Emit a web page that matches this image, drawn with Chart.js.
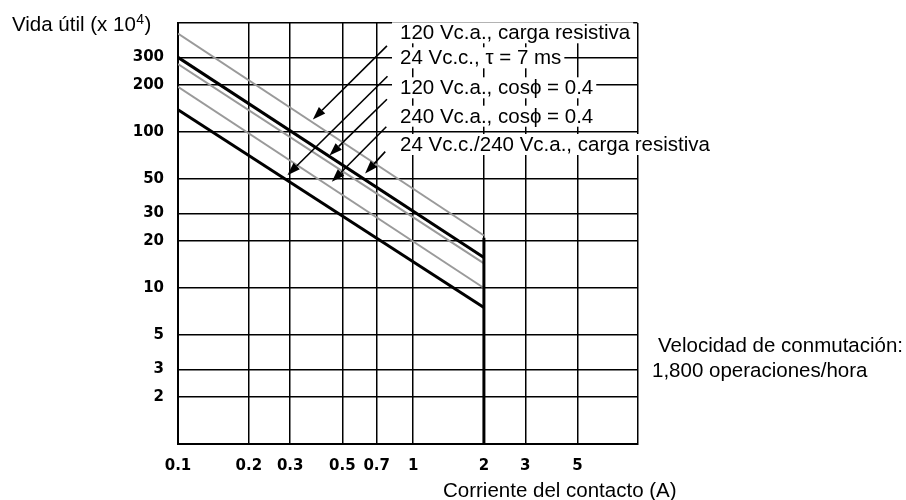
<!DOCTYPE html>
<html>
<head>
<meta charset="utf-8">
<script src="https://cdn.jsdelivr.net/npm/chart.js@4/dist/chart.umd.min.js"></script>
<style>
  html, body { margin: 0; padding: 0; background: #fff; }
</style>
</head>
<body>
<canvas id="life-chart" width="906" height="500"></canvas>
<script>
// Contact current at both ends of each curve (A)
const currentAmps = [0.1, 2];

// Electrical life (x 10^4 operations) at 0.1 A and 2 A
const life120acResistive = [428, 21.7];
const life24dcTau7 = [301, 15.7];
const life120acCos04 = [273, 14.4];
const life240acCos04 = [195, 10];
const life24dc240acResistive = [139, 7.5];

const seriesLabels = [
    "120 Vc.a., carga resistiva",
    "24 Vc.c., \u03c4 = 7 ms",
    "120 Vc.a., cos\u03d5 = 0.4",
    "240 Vc.a., cos\u03d5 = 0.4",
    "24 Vc.c./240 Vc.a., carga resistiva"
];

// Labelled grid values on each axis
const xTickValues = [0.1, 0.2, 0.3, 0.5, 0.7, 1, 2, 3, 5];
const yTickValues = [2, 3, 5, 10, 20, 30, 50, 100, 200, 300];

// Axis limits
const xMin = 0.1, xMax = 9;
const yMin = 1, yMax = 500;

// Pointer arrows from each label to its curve, in data units [current, life]
const arrowFrom = [[0.774, 357], [0.778, 227.7], [0.774, 162.3], [0.769, 108.1], [0.761, 74.9]];
const arrowTo = [[0.3745, 120.4], [0.292, 52.9], [0.4406, 70.7], [0.451, 48.0], [0.625, 54.3]];

const textFont = '20.5px "Liberation Sans", Arial, sans-serif';
const tickFont = { family: '"DejaVu Sans", sans-serif', size: 15, weight: 'bold' };

function toPoints(values) {
    return currentAmps.map((x, i) => ({ x: x, y: values[i] }));
}

function lineSet(values, color, width) {
    return {
        data: toPoints(values),
        borderColor: color,
        borderWidth: width,
        pointRadius: 0,
        fill: false,
        tension: 0
    };
}

// Draws the labels, arrows and the heavy 2 A limit line on top of the grid
const annotationPlugin = {
    id: 'annotations',
    afterDatasetsDraw(chart) {
        const ctx = chart.ctx;
        const xs = chart.scales.x;
        const ys = chart.scales.y;
        ctx.save();

        // heavier part of the 2 A line
        ctx.strokeStyle = '#000';
        ctx.lineWidth = 3;
        ctx.beginPath();
        ctx.moveTo(xs.getPixelForValue(2), ys.getPixelForValue(21));
        ctx.lineTo(xs.getPixelForValue(2), ys.getPixelForValue(yMin));
        ctx.stroke();

        // series labels on white boxes
        ctx.font = textFont;
        ctx.textBaseline = 'alphabetic';
        ctx.textAlign = 'left';
        const labelX = 400;
        const baselines = [39.3, 64.3, 94.3, 122.7, 151];
        seriesLabels.forEach(function(label, i) {
            const w = ctx.measureText(label).width;
            ctx.fillStyle = '#fff';
            ctx.fillRect(labelX - 8, baselines[i] - 17, w + 11, 21);
        });
        ctx.fillStyle = '#000';
        seriesLabels.forEach(function(label, i) {
            ctx.fillText(label, labelX, baselines[i]);
        });

        // arrows
        ctx.strokeStyle = '#000';
        ctx.fillStyle = '#000';
        ctx.lineWidth = 1.6;
        arrowFrom.forEach(function(from, i) {
            const x0 = xs.getPixelForValue(from[0]);
            const y0 = ys.getPixelForValue(from[1]);
            const x1 = xs.getPixelForValue(arrowTo[i][0]);
            const y1 = ys.getPixelForValue(arrowTo[i][1]);
            const ang = Math.atan2(y1 - y0, x1 - x0);
            const len = 13, half = 4.5;
            const bx = x1 - len * Math.cos(ang);
            const by = y1 - len * Math.sin(ang);
            ctx.beginPath();
            ctx.moveTo(x0, y0);
            ctx.lineTo(bx, by);
            ctx.stroke();
            ctx.beginPath();
            ctx.moveTo(x1, y1);
            ctx.lineTo(bx + half * Math.sin(ang), by - half * Math.cos(ang));
            ctx.lineTo(bx - half * Math.sin(ang), by + half * Math.cos(ang));
            ctx.closePath();
            ctx.fill();
        });

        // axis titles and note
        ctx.fillStyle = '#000';
        ctx.font = textFont;
        let tx = 12;
        ctx.fillText('Vida \u00fatil (x 10', tx, 31);
        tx += ctx.measureText('Vida \u00fatil (x 10').width;
        ctx.font = '14px "Liberation Sans", Arial, sans-serif';
        ctx.fillText('4', tx + 0.5, 24);
        tx += ctx.measureText('4').width + 1;
        ctx.font = textFont;
        ctx.fillText(')', tx, 31);

        ctx.fillText('Corriente del contacto (A)', 443, 497);
        ctx.fillText('Velocidad de conmutaci\u00f3n:', 658, 352);
        ctx.fillText('1,800 operaciones/hora', 652, 377);

        ctx.restore();
    }
};

const chart = new Chart(document.getElementById('life-chart'), {
    type: 'line',
    data: {
        datasets: [
            lineSet(life120acResistive, '#9a9a9a', 2),
            lineSet(life24dcTau7, '#000', 3),
            lineSet(life120acCos04, '#9a9a9a', 2),
            lineSet(life240acCos04, '#9a9a9a', 2),
            lineSet(life24dc240acResistive, '#000', 3)
        ]
    },
    options: {
        responsive: false,
        animation: false,
        layout: { padding: { left: 0, top: 15, right: 268.5, bottom: 0 } },
        plugins: {
            legend: { display: false },
            tooltip: { enabled: false }
        },
        scales: {
            x: {
                type: 'logarithmic',
                min: xMin,
                max: xMax,
                afterBuildTicks: function(scale) {
                    scale.ticks = xTickValues.concat([xMax]).map(v => ({ value: v }));
                },
                afterFit: function(scale) { scale.height = 56; },
                ticks: {
                    autoSkip: false,
                    maxRotation: 0,
                    padding: 13,
                    color: '#000',
                    font: tickFont,
                    callback: function(value) {
                        return xTickValues.includes(value) ? String(value) : '';
                    }
                },
                grid: { color: '#000', lineWidth: 1.5, drawTicks: false },
                border: { display: true, color: '#000', width: 2 }
            },
            y: {
                type: 'logarithmic',
                min: yMin,
                max: yMax,
                afterBuildTicks: function(scale) {
                    scale.ticks = [yMin].concat(yTickValues, [yMax]).map(v => ({ value: v }));
                },
                afterFit: function(scale) { scale.width = 178; },
                ticks: {
                    autoSkip: false,
                    padding: 14,
                    color: '#000',
                    font: tickFont,
                    callback: function(value) {
                        return yTickValues.includes(value) ? String(value) : '';
                    }
                },
                grid: { color: '#000', lineWidth: 1.5, drawTicks: false },
                border: { display: true, color: '#000', width: 2 }
            }
        }
    },
    plugins: [annotationPlugin]
});
</script>
</body>
</html>
